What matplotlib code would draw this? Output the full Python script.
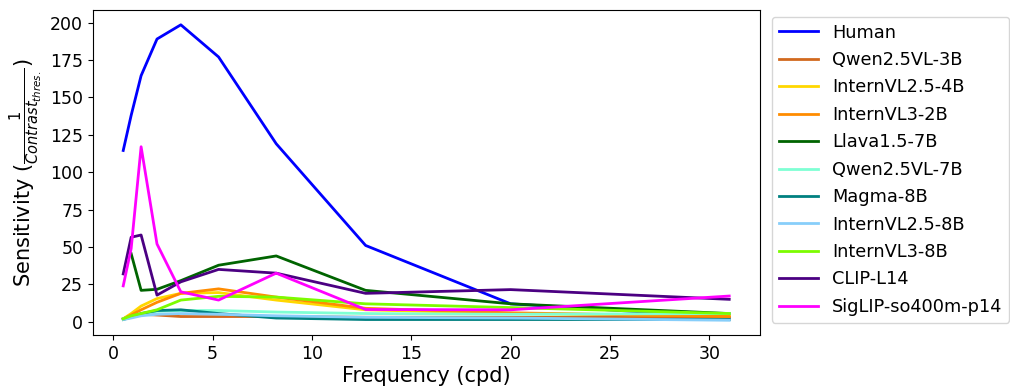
import numpy as np
import matplotlib
matplotlib.use('Agg')
import matplotlib.pyplot as plt

# 空间频率（cpd）
freqs = [0.5, 0.9, 1.4, 2.2, 3.4, 5.3, 8.2, 12.7, 20, 31]

# 各模型 / 人眼的对比敏感度（1 / 阈值对比度）
human = [114.5, 138, 164.5, 189, 198.5, 177, 119, 51, 12, 3]
qwen25vl_3b = [2, 3.5, 5, 4.5, 3.5, 3.5, 3.5, 3, 3, 3]
internvl25_4b = [2, 5.5, 10.5, 15.5, 19, 19.5, 14.5, 8, 5.5, 4]
internvl3_2b = [2, 4.5, 8, 13, 19, 22, 16.5, 9, 6, 3.5]
llava15_7b = [np.nan, 45.5, 21, 21.7, 27.5, 37.8, 44, 21, 12, 5.5]
qwen25vl_7b = [2, 3.5, 5, 7, 7.5, 7.5, 6.5, 5.5, 5, 5.5]
magma_8b = [1.5, 3, 5.5, 7.5, 8, 5.5, 2.5, 1.5, 1.5, 1.5]
internvl25_8b = [1.5, 2.5, 4, 5, 5.5, 5, 4, 3, 2.5, 1]
internvl3_8b = [2, 4, 5.5, 8, 14.5, 17, 16.5, 12, 9.5, 5.5]
clip_l14 = [32, 56.5, 58, 17.8, 26.7, 35, 32.5, 19, 21.5, 15]
siglip = [24, 49, 117, 52, 20, 14.5, 32.5, 8.2, 8, 17.2]

labels = ['Human', 'Qwen2.5VL-3B', 'InternVL2.5-4B', 'InternVL3-2B', 'Llava1.5-7B',
          'Qwen2.5VL-7B', 'Magma-8B', 'InternVL2.5-8B', 'InternVL3-8B', 'CLIP-L14',
          'SigLIP-so400m-p14']
colors = ['blue', 'chocolate', 'gold', 'darkorange', 'darkgreen', 'aquamarine',
          'teal', 'lightskyblue', 'lawngreen', 'indigo', 'magenta']


def plot_csf(series):
    fig = plt.figure(figsize=(10.1, 3.86), dpi=100)
    ax = fig.add_axes([0.092, 0.132, 0.66, 0.842])
    for values, label, color in zip(series, labels, colors):
        ax.plot(freqs, values, color=color, linewidth=2, label=label)
    ax.set_xlabel('Frequency (cpd)', fontsize=15, labelpad=2)
    ax.set_ylabel(r'Sensitivity ($\frac{1}{Contrast_{thres.}}$)', fontsize=15, labelpad=4)
    ax.tick_params(labelsize=12.5)
    ax.legend(loc='upper left', bbox_to_anchor=(1.018, 0.98), borderaxespad=0,
              fontsize=12.8, labelspacing=0.53, handlelength=2.2)
    fig.savefig('out.png', dpi=100)


if __name__ == "__main__":
    plot_csf([human, qwen25vl_3b, internvl25_4b, internvl3_2b, llava15_7b, qwen25vl_7b,
              magma_8b, internvl25_8b, internvl3_8b, clip_l14, siglip])
